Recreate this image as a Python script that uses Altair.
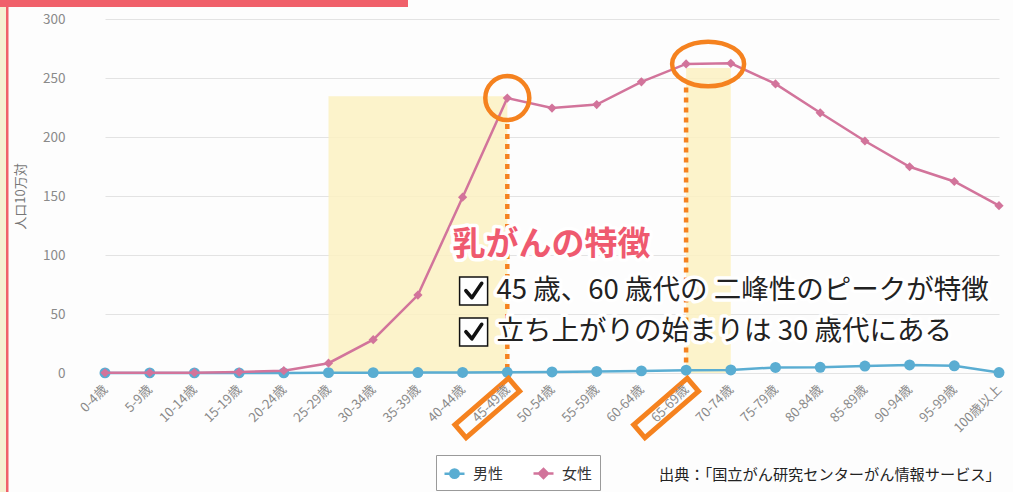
import altair as alt
import pandas as pd

# ---------------- data ----------------
ages = ["0-4歳", "5-9歳", "10-14歳", "15-19歳", "20-24歳", "25-29歳", "30-34歳",
        "35-39歳", "40-44歳", "45-49歳", "50-54歳", "55-59歳", "60-64歳", "65-69歳",
        "70-74歳", "75-79歳", "80-84歳", "85-89歳", "90-94歳", "95-99歳", "100歳以上"]
male = [0.1, 0.1, 0.1, 0.1, 0.1, 0.3, 0.3, 0.4, 0.5, 0.6, 0.9, 1.3, 1.8, 2.4,
        2.6, 4.7, 4.8, 5.9, 6.8, 6.1, 0.4]
female = [0.2, 0.2, 0.3, 0.8, 2.0, 8.3, 28.2, 66.0, 149.0, 233.0, 224.5, 227.5,
          246.8, 261.9, 262.4, 245.0, 220.5, 196.6, 174.8, 162.3, 141.8]
series_names = ["男性", "女性"]
series_colors = ["#5AADD2", "#D2749B"]

band_start = ["25-29歳", "65-69歳"]
band_end = ["45-49歳", "70-74歳"]
band_top = [234.5, 258.5]

peak_ages = ["45-49歳", "65-69歳"]
peak_values = [233.0, 261.9]
rule_tops = [211.0, 242.0]

note_anchor = "40-44歳"
note_title = "乳がんの特徴"
note_title_y = 108.5
note_lines = ["45 歳、60 歳代の 二峰性のピークが特徴", "立ち上がりの始まりは 30 歳代にある"]
note_lines_y = [69.5, 34.7]
source_text = "出典：「国立がん研究センターがん情報サービス」"
y_title = "人口10万対"
y_ticks = [0, 50, 100, 150, 200, 250, 300]

ORANGE = "#F5821F"
FONT = "Noto Sans CJK JP"

# ---------------- tables ----------------
df = pd.DataFrame({
    "age": ages * 2,
    "series": [series_names[0]] * len(ages) + [series_names[1]] * len(ages),
    "value": male + female,
})
df_m = df[df.series == series_names[0]]
df_f = df[df.series == series_names[1]]
bands = pd.DataFrame({"a": band_start, "b": band_end, "top": band_top})
rules = pd.DataFrame({"age": peak_ages, "top": rule_tops})
one = pd.DataFrame({"k": [0]})

xscale = alt.Scale(type="point", domain=ages, range=[20, 914], padding=0)
yscale = alt.Scale(domain=[0, 300], nice=False, zero=True)

X = alt.X("age:N", scale=xscale, sort=ages,
          axis=alt.Axis(title=None, labelAngle=315, labelAlign="right",
                        labelBaseline="middle", labelFontSize=13, labelColor="#8a8a8a",
                        labelPadding=14, ticks=False, domain=False, grid=False,
                        labelFont=FONT))
Y = alt.Y("value:Q", scale=yscale,
          axis=alt.Axis(title=y_title, values=y_ticks, grid=True, gridColor="#e3e3e3",
                        domain=False, ticks=False, labelPadding=20, labelFontSize=13.5,
                        labelColor="#8a8a8a", labelFont=FONT, titleFont=FONT,
                        titleFontSize=13, titleColor="#777", titleFontWeight="normal",
                        titleX=-65, titleY=177, titleBaseline="middle", titleAngle=270))

# ---------------- decorations (screenshot frame) ----------------
cream = alt.Chart(one).mark_rect(fill="#F6F0D2").encode(
    x=alt.value(-85), x2=alt.value(-79), y=alt.value(-19), y2=alt.value(473))
redline = alt.Chart(one).mark_rect(fill="#F0606A").encode(
    x=alt.value(-79), x2=alt.value(-76.5), y=alt.value(-19), y2=alt.value(473))
banner = alt.Chart(one).mark_rect(fill="#F0606A").encode(
    x=alt.value(-85), x2=alt.value(323), y=alt.value(-19), y2=alt.value(-12))

# ---------------- highlight bands & rules ----------------
band_layer = alt.Chart(bands).mark_rect(fill="#FBF1C2", opacity=0.85).encode(
    x=alt.X("a:N", scale=xscale), x2="b:N",
    y=alt.Y("top:Q", scale=yscale), y2=alt.datum(0))
rule_layer = alt.Chart(rules).mark_rule(color=ORANGE, strokeWidth=4.5,
                                        strokeDash=[5, 5]).encode(
    x=alt.X("age:N", scale=xscale), y=alt.Y("top:Q", scale=yscale), y2=alt.datum(0))

# ---------------- series ----------------
base_m = alt.Chart(df_m)
base_f = alt.Chart(df_f)
m_line = base_m.mark_line(color=series_colors[0], strokeWidth=2.5).encode(x=X, y=Y)
m_pts = base_m.mark_point(filled=True, shape="circle", size=120, opacity=1,
                          color=series_colors[0]).encode(x=X, y=Y)
f_line = base_f.mark_line(color=series_colors[1], strokeWidth=2.5).encode(x=X, y=Y)
f_pts = base_f.mark_point(filled=True, shape="diamond", size=85, opacity=1,
                          color=series_colors[1]).encode(x=X, y=Y)

# legend (invisible layer, symbols drawn by the legend)
leg_paths = [
    "M-1,0 L1,0 M-0.42,0 A0.42,0.42 0 1,1 0.42,0 A0.42,0.42 0 1,1 -0.42,0 Z",
    "M-1,0 L1,0 M-0.45,0 L0,-0.45 L0.45,0 L0,0.45 Z",
]
leg = alt.Legend(title=None, orient="none", legendX=351, legendY=436,
                 direction="horizontal", padding=7, strokeColor="#9a9a9a",
                 fillColor="#ffffff", symbolSize=400, symbolStrokeWidth=2.5,
                 symbolOpacity=1, labelFontSize=15, labelColor="#333",
                 labelFont=FONT, labelOffset=7, columnPadding=24)
legend_layer = alt.Chart(df).mark_point(opacity=0).encode(
    x=X, y=Y,
    fill=alt.Fill("series:N", scale=alt.Scale(domain=series_names, range=series_colors), legend=leg),
    stroke=alt.Stroke("series:N", scale=alt.Scale(domain=series_names, range=series_colors), legend=leg),
    shape=alt.Shape("series:N", scale=alt.Scale(domain=series_names, range=leg_paths), legend=leg),
)

# ---------------- orange annotation shapes ----------------
peak1 = pd.DataFrame({"age": [peak_ages[0]], "value": [peak_values[0]]})
peak2 = pd.DataFrame({"age": [peak_ages[1]], "value": [peak_values[1]]})
circle1 = alt.Chart(peak1).mark_point(shape="circle", size=1936, filled=False,
                                      stroke=ORANGE, strokeWidth=4.5, opacity=1).encode(
    x=alt.X("age:N", scale=xscale), y=alt.Y("value:Q", scale=yscale))
ellipse_path = ("M-1,0 C-1,-0.342 -0.552,-0.62 0,-0.62 C0.552,-0.62 1,-0.342 1,0 "
                "C1,0.342 0.552,0.62 0,0.62 C-0.552,0.62 -1,0.342 -1,0 Z")
ellipse2 = alt.Chart(peak2).mark_point(shape=ellipse_path, size=5184, filled=False,
                                       stroke=ORANGE, strokeWidth=4.5, opacity=1,
                                       xOffset=22).encode(
    x=alt.X("age:N", scale=xscale), y=alt.Y("value:Q", scale=yscale))
box_path = "M-1,-0.24 L1,-0.24 L1,0.24 L-1,0.24 Z"
boxes = alt.Chart(pd.DataFrame({"age": peak_ages})).mark_point(
    shape=box_path, size=5041, angle=319, filled=False, stroke=ORANGE,
    strokeWidth=5, opacity=1, xOffset=-20, yOffset=35).encode(
    x=alt.X("age:N", scale=xscale), y=alt.datum(0, scale=yscale))

# ---------------- text annotation ----------------
tdf = pd.DataFrame({"age": [note_anchor], "value": [note_title_y], "t": [note_title]})
ldf = pd.DataFrame({"age": [note_anchor] * 2, "value": note_lines_y, "t": note_lines})
enc_t = dict(x=alt.X("age:N", scale=xscale), y=alt.Y("value:Q", scale=yscale), text="t:N")

title_halo = alt.Chart(tdf).mark_text(align="left", baseline="middle", font=FONT,
                                      fontSize=33, fontWeight="bold", dx=-10,
                                      stroke="white", strokeWidth=7, strokeJoin="round",
                                      fill="white").encode(**enc_t)
title_txt = alt.Chart(tdf).mark_text(align="left", baseline="middle", font=FONT,
                                     fontSize=33, fontWeight="bold", dx=-10,
                                     color="#EF5A6F").encode(**enc_t)
lines_halo = alt.Chart(ldf).mark_text(align="left", baseline="middle", font=FONT,
                                      fontSize=27.5, dx=34, stroke="white", strokeWidth=7,
                                      strokeJoin="round", fill="white").encode(**enc_t)
lines_txt = alt.Chart(ldf).mark_text(align="left", baseline="middle", font=FONT,
                                     fontSize=27.5, dx=34, color="#222").encode(**enc_t)
enc_c = dict(x=alt.X("age:N", scale=xscale), y=alt.Y("value:Q", scale=yscale))
checkbox = alt.Chart(ldf).mark_point(shape="square", size=784, fill="white",
                                     stroke="#111", strokeWidth=1.5, opacity=1,
                                     fillOpacity=1, xOffset=11).encode(**enc_c)
check_path = "M-0.55,-0.02 L-0.12,0.48 L0.58,-0.55"
checks = alt.Chart(ldf).mark_point(shape=check_path, size=784, filled=False,
                                   stroke="#111", strokeWidth=3.6, opacity=1,
                                   strokeJoin="round", strokeCap="round",
                                   xOffset=11).encode(**enc_c)

source = alt.Chart(pd.DataFrame({"t": [source_text]})).mark_text(
    align="left", baseline="middle", font=FONT, fontSize=15.2, color="#222").encode(
    x=alt.value(574), y=alt.value(456), text="t:N")

chart = alt.layer(
    cream, redline, banner,
    band_layer, rule_layer,
    m_line, m_pts, f_line, f_pts, legend_layer,
    circle1, ellipse2, boxes,
    lines_halo, title_halo, checkbox, checks, title_txt, lines_txt,
    source,
).properties(
    width=928, height=354,
    padding={"left": 85, "top": 19, "right": 0, "bottom": 119},
    autosize=alt.AutoSizeParams(type="none"),
    background="#fdfdfd",
).configure_view(stroke=None)

chart.save("out.html", embed_options={"renderer": "svg", "actions": False})
